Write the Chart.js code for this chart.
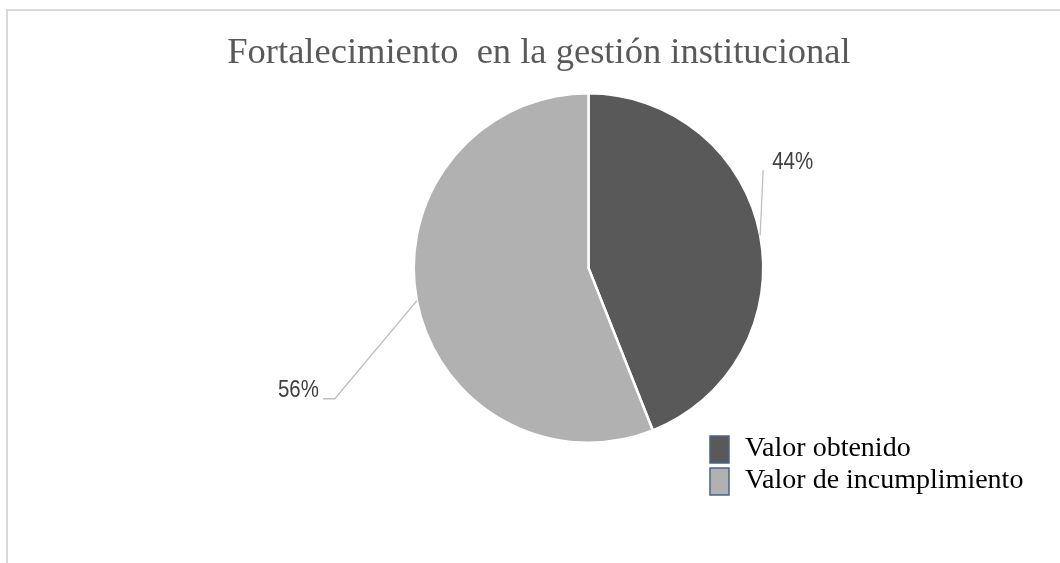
<!DOCTYPE html>
<html>
<head>
<meta charset="utf-8">
<script src="https://cdn.jsdelivr.net/npm/chart.js@4.4.0/dist/chart.umd.min.js"></script>
<style>
  html, body { margin: 0; padding: 0; background: #ffffff; }
  #wrap { width: 1060px; height: 563px; position: relative; }
</style>
</head>
<body>
<div id="wrap"><canvas id="c" width="1060" height="563"></canvas></div>
<script>
const titleText = 'Fortalecimiento  en la gestión institucional';
const categories = ['Valor obtenido', 'Valor de incumplimiento'];
const values = [44, 56];
const percentLabels = ['44%', '56%'];
const colors = ['#595959', '#b1b1b1'];

const decorPlugin = {
  id: 'decor',
  afterDraw(chart) {
    const ctx = chart.ctx;
    ctx.save();
    // outer frame
    ctx.strokeStyle = '#d9d9d9';
    ctx.lineWidth = 2;
    ctx.strokeRect(7, 10, 1100, 600);

    // title
    ctx.fillStyle = '#595959';
    ctx.font = '36.5px "Liberation Serif", "Times New Roman", serif';
    ctx.textAlign = 'center';
    ctx.textBaseline = 'alphabetic';
    ctx.fillText(titleText, 539, 63);

    // leader lines and labels
    const meta = chart.getDatasetMeta(0);
    const leaders = [
      { pts: [[3, -65]], tx: 12, ty: -73, align: 'left' },
      { pts: [[-82, 98], [-94, 98]], tx: -98, ty: 90, align: 'right' }
    ];
    meta.data.forEach((arc, i) => {
      const mid = (arc.startAngle + arc.endAngle) / 2;
      const ax = arc.x + Math.cos(mid) * arc.outerRadius;
      const ay = arc.y + Math.sin(mid) * arc.outerRadius;
      const L = leaders[i];
      ctx.strokeStyle = '#bfbfbf';
      ctx.lineWidth = 1.3;
      ctx.beginPath();
      ctx.moveTo(ax, ay);
      L.pts.forEach(p => ctx.lineTo(ax + p[0], ay + p[1]));
      ctx.stroke();
      ctx.save();
      const sx = 0.89;
      ctx.translate(ax + L.tx, ay + L.ty);
      ctx.scale(sx, 1);
      ctx.fillStyle = '#404040';
      ctx.font = '23px "Liberation Sans", sans-serif';
      ctx.textAlign = L.align;
      ctx.textBaseline = 'middle';
      ctx.fillText(percentLabels[i], 0, 0);
      ctx.restore();
    });

    // legend
    const lx = 710, ly = 436, boxW = 19, boxH = 27, gap = 32;
    categories.forEach((cat, i) => {
      const y = ly + i * gap;
      ctx.fillStyle = colors[i];
      ctx.fillRect(lx, y, boxW, boxH);
      ctx.strokeStyle = '#4a6488';
      ctx.lineWidth = 1.5;
      ctx.strokeRect(lx, y, boxW, boxH);
      ctx.fillStyle = '#000000';
      ctx.font = '28px "Liberation Serif", "Times New Roman", serif';
      ctx.textAlign = 'left';
      ctx.textBaseline = 'alphabetic';
      ctx.fillText(cat, 745, y + 20);
    });
    ctx.restore();
  }
};

new Chart(document.getElementById('c'), {
  type: 'pie',
  data: {
    labels: categories,
    datasets: [{
      data: values,
      backgroundColor: colors,
      borderColor: '#ffffff',
      borderWidth: 2.5
    }]
  },
  options: {
    responsive: false,
    animation: false,
    layout: { padding: { top: 92, bottom: 119, left: 412, right: 295 } },
    plugins: {
      legend: { display: false },
      title: { display: false },
      tooltip: { enabled: false }
    }
  },
  plugins: [decorPlugin]
});
</script>
</body>
</html>
